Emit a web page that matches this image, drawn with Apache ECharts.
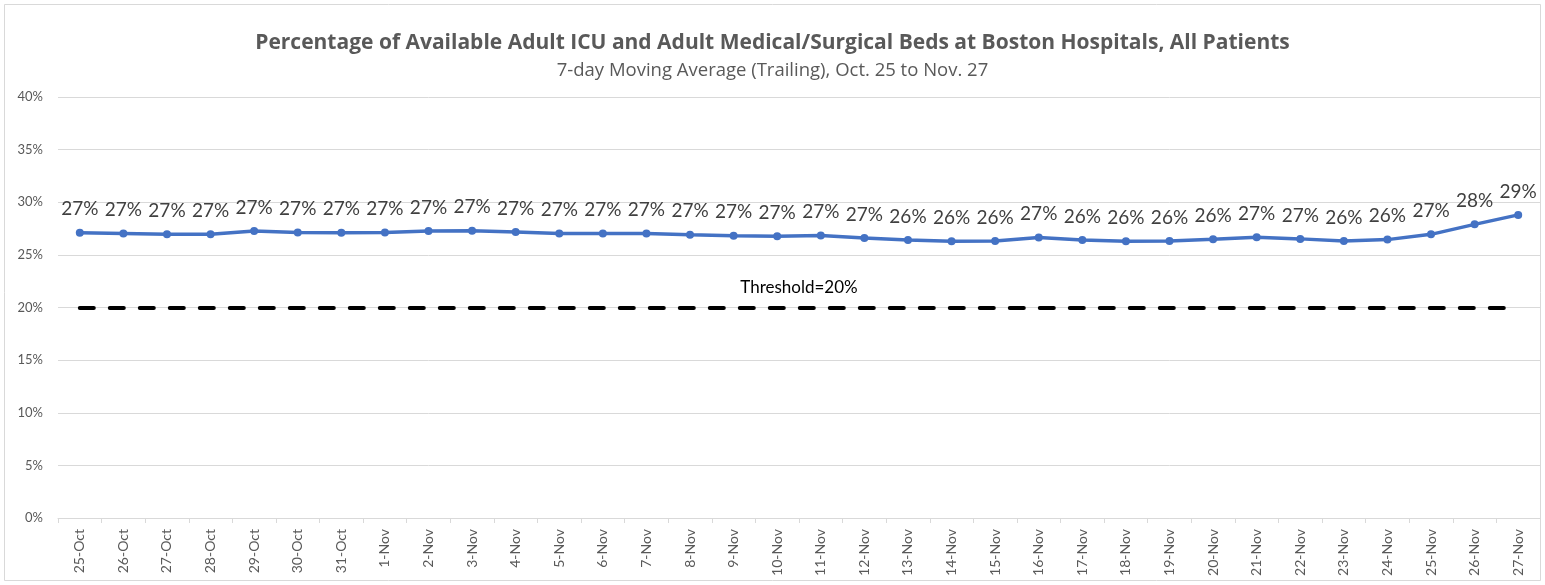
<!DOCTYPE html>
<html>
<head>
<meta charset="utf-8">
<script src="https://cdn.jsdelivr.net/npm/echarts@6/dist/echarts.min.js"></script>
<style>html,body{margin:0;padding:0;background:#fff}#c{width:1545px;height:585px}</style>
</head>
<body>
<div id="c"></div>
<script>
const categories = ['25-Oct','26-Oct','27-Oct','28-Oct','29-Oct','30-Oct','31-Oct','1-Nov','2-Nov','3-Nov','4-Nov','5-Nov','6-Nov','7-Nov','8-Nov','9-Nov','10-Nov','11-Nov','12-Nov','13-Nov','14-Nov','15-Nov','16-Nov','17-Nov','18-Nov','19-Nov','20-Nov','21-Nov','22-Nov','23-Nov','24-Nov','25-Nov','26-Nov','27-Nov'];
const availablePct = [27.10,27.04,26.95,26.95,27.27,27.13,27.10,27.13,27.27,27.30,27.17,27.02,27.04,27.04,26.92,26.82,26.76,26.84,26.60,26.41,26.29,26.32,26.64,26.42,26.29,26.32,26.48,26.67,26.52,26.32,26.45,26.95,27.90,28.80];
const threshold = 20;
const yTicks = [0,5,10,15,20,25,30,35,40];
const titleText = 'Percentage of Available Adult ICU and Adult Medical/Surgical Beds at Boston Hospitals, All Patients';
const subtitleText = '7-day Moving Average (Trailing), Oct. 25 to Nov. 27';

const chart = echarts.init(document.getElementById('c'), null, {renderer:'canvas'});
const font = 'Lato, "Open Sans", sans-serif';
const font2 = '"Open Sans", Lato, sans-serif';
chart.setOption({
  animation:false,
  backgroundColor:'#fff',
  graphic:[{type:'rect',shape:{x:4.5,y:4.5,width:1536,height:576},style:{fill:'none',stroke:'#d9d9d9',lineWidth:1},silent:true}],
  title:{
    text:titleText,
    subtext:subtitleText,
    left:'center', top:28, itemGap:7,
    textStyle:{fontFamily:font2,fontSize:21,fontWeight:'bold',color:'#595959'},
    subtextStyle:{fontFamily:font2,fontSize:18.5,color:'#595959'}
  },
  grid:{left:58,right:5,top:97,bottom:67,containLabel:false},
  xAxis:{
    type:'category', data:categories, boundaryGap:true,
    axisLine:{lineStyle:{color:'#d9d9d9',width:1}},
    axisTick:{show:true,length:5,alignWithLabel:false,lineStyle:{color:'#d9d9d9'}},
    axisLabel:{rotate:90,interval:0,fontFamily:font,fontSize:14,color:'#595959',margin:11}
  },
  yAxis:{
    type:'value', min:yTicks[0], max:yTicks[yTicks.length-1], interval:5,
    axisLine:{show:false}, axisTick:{show:false},
    splitLine:{lineStyle:{color:'#d9d9d9',width:1}},
    axisLabel:{formatter:v=>v+'%',fontFamily:font,fontSize:13,color:'#595959',margin:15}
  },
  series:[{
    type:'line', data:availablePct,
    symbol:'circle', symbolSize:8,
    itemStyle:{color:'#4472C4'},
    lineStyle:{color:'#4472C4',width:3.5},
    label:{show:true,position:'top',distance:10,formatter:p=>Math.round(p.value)+'%',fontFamily:font,fontSize:19,color:'#404040'},
    markLine:{
      silent:true, symbol:['none','none'],
      lineStyle:{color:'#000',width:4,type:[14,16],cap:'round'},
      label:{show:true,position:'middle',formatter:'Threshold='+threshold+'%',fontFamily:font,fontSize:17,color:'#000',distance:11},
      data:[[{xAxis:categories[0],yAxis:threshold},{xAxis:categories[categories.length-1],yAxis:threshold}]]
    }
  }]
});
</script>
</body>
</html>
